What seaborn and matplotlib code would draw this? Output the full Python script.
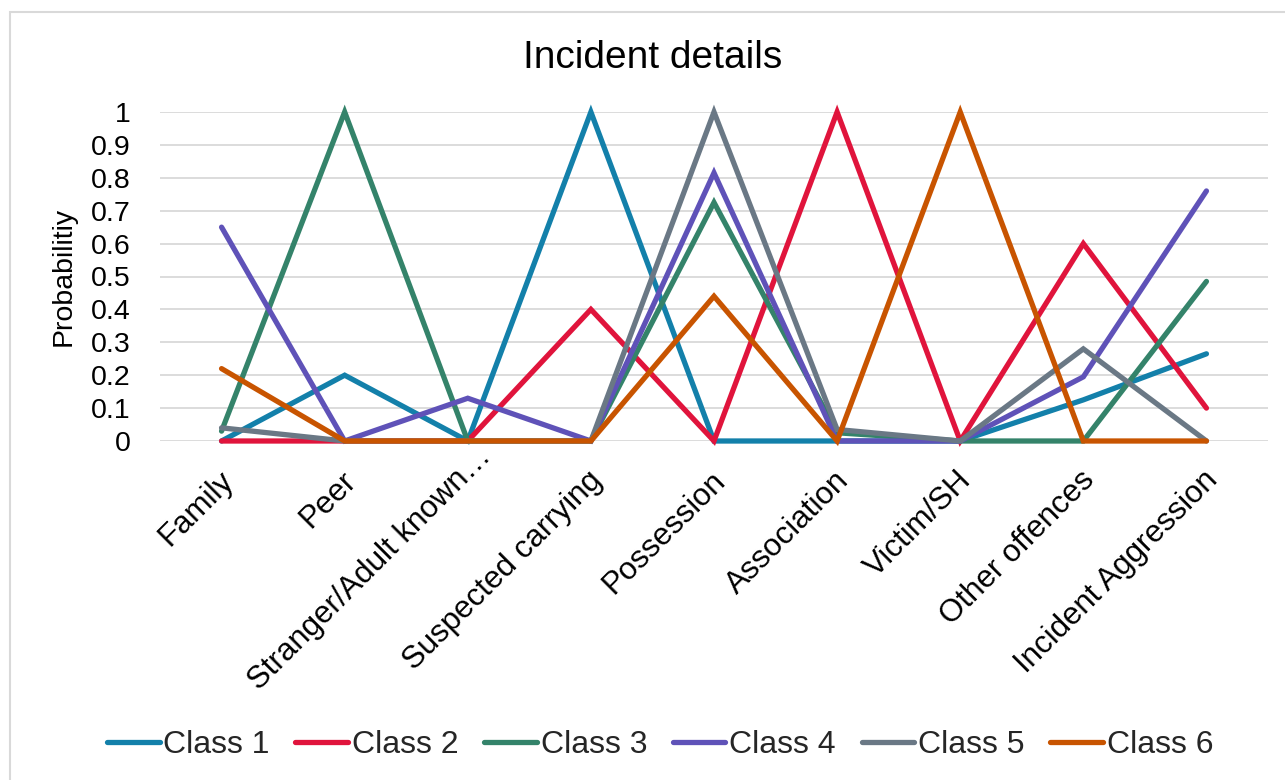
import matplotlib
matplotlib.use("Agg")
import matplotlib.pyplot as plt
import matplotlib.transforms as mtransforms
from matplotlib.patches import Rectangle
from matplotlib.lines import Line2D
import seaborn as sns
import pandas as pd

categories = ["Family", "Peer", "Stranger/Adult known\u2026", "Suspected carrying",
              "Possession", "Association", "Victim/SH", "Other offences",
              "Incident Aggression"]

class_1 = [0.00, 0.20, 0.00, 1.00, 0.00, 0.00, 0.00, 0.125, 0.265]
class_2 = [0.00, 0.00, 0.00, 0.40, 0.00, 1.00, 0.00, 0.60, 0.10]
class_3 = [0.03, 1.00, 0.00, 0.00, 0.725, 0.025, 0.00, 0.00, 0.485]
class_4 = [0.65, 0.00, 0.13, 0.00, 0.815, 0.00, 0.00, 0.195, 0.76]
class_5 = [0.04, 0.00, 0.00, 0.00, 1.00, 0.035, 0.00, 0.28, 0.00]
class_6 = [0.22, 0.00, 0.00, 0.00, 0.44, 0.00, 1.00, 0.00, 0.00]

class_names = ["Class 1", "Class 2", "Class 3", "Class 4", "Class 5", "Class 6"]
series = [class_1, class_2, class_3, class_4, class_5, class_6]
colors = ["#1380AA", "#E0143C", "#34836A", "#5F52B8", "#6A7885", "#C85400"]

y_ticks = [0, 0.1, 0.2, 0.3, 0.4, 0.5, 0.6, 0.7, 0.8, 0.9, 1]
y_tick_labels = ["0", "0.1", "0.2", "0.3", "0.4", "0.5", "0.6", "0.7", "0.8", "0.9", "1"]

df = pd.DataFrame(
    [(cat, name, v) for name, vals in zip(class_names, series) for cat, v in zip(categories, vals)],
    columns=["Detail", "Class", "Probability"],
)

sns.set_theme(style="white")
plt.rcParams["font.family"] = ["Liberation Sans", "DejaVu Sans"]

LW = 3.8

fig = plt.figure(figsize=(12.85, 7.8), dpi=100)
ax = fig.add_axes([160 / 1285, 1 - 441 / 780, (1268 - 160) / 1285, (441 - 112) / 780])

sns.lineplot(data=df, x="Detail", y="Probability", hue="Class", palette=colors,
             sort=False, linewidth=LW, ax=ax, legend=False, zorder=3)
for ln in ax.lines:
    ln.set_solid_joinstyle("miter")
    ln.set_solid_capstyle("round")
    ln.set_clip_on(False)

ax.set_xlim(-0.5, len(categories) - 0.5)
ax.set_ylim(0, 1)
ax.set_yticks(y_ticks)
ax.set_yticklabels(y_tick_labels)
ax.yaxis.grid(True, color="#D9D9D9", linewidth=1.3, zorder=0)
ax.xaxis.grid(False)
for s in ax.spines.values():
    s.set_visible(False)
ax.set_axisbelow(True)
ax.tick_params(axis="y", length=0, pad=21, labelsize=20.5, labelcolor="black")
ax.tick_params(axis="x", length=0, pad=0, labelsize=22.5, labelcolor="black")
ax.set_xlabel("")
ax.set_ylabel("Probabilitiy", fontsize=20.5, color="black")
ax.yaxis.set_label_coords(-(160 - 77) / 1108, 0.5)

ax.set_xticks(range(len(categories)))
ax.set_xticklabels(categories)
base_offset = mtransforms.ScaledTranslation(7 / 100, -35 / 100, fig.dpi_scale_trans)
extra_offset = mtransforms.ScaledTranslation(12 / 100, 24 / 100, fig.dpi_scale_trans)
for lbl in ax.get_xticklabels():
    lbl.set_rotation(45)
    lbl.set_rotation_mode("anchor")
    lbl.set_ha("right")
    lbl.set_va("center")
    t = lbl.get_transform() + base_offset
    if lbl.get_text().startswith("Stranger"):
        t = t + extra_offset
    lbl.set_transform(t)

fig.text(653 / 1285, 1 - 58 / 780, "Incident details", fontsize=28,
         ha="center", va="center", color="black")

handles = [Line2D([0], [0], color=c, linewidth=LW, solid_capstyle="round") for c in colors]
fig.legend(handles, class_names, loc="center", bbox_to_anchor=(660 / 1285, 1 - 745 / 780),
           ncol=6, frameon=False, fontsize=23, handlelength=1.65, handletextpad=0.12,
           columnspacing=0.8, borderaxespad=0)

fig.patches.append(Rectangle((10 / 1285, -0.05), 1.2, 1 - 12 / 780 + 0.05,
                             transform=fig.transFigure, fill=False,
                             edgecolor="#D9D9D9", linewidth=1.5, zorder=-1))

fig.savefig("out.png", dpi=100, facecolor="white")
